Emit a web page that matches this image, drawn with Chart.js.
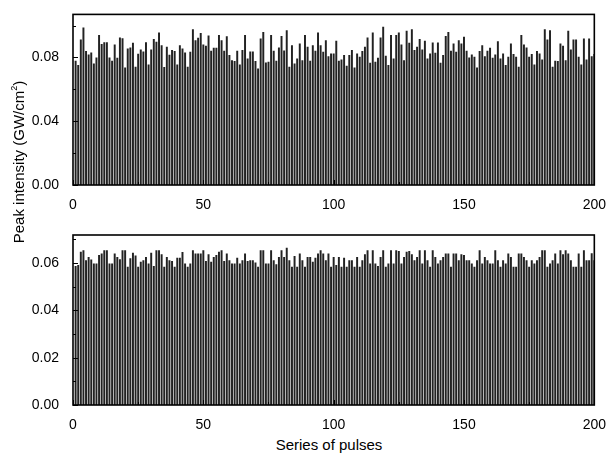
<!DOCTYPE html>
<html>
<head>
<meta charset="utf-8">
<script src="https://cdn.jsdelivr.net/npm/chart.js@4/dist/chart.umd.min.js"></script>
<style>
    html, body {margin: 0; padding: 0; background: #fff;}
    #wrap {position: relative; width: 610px; height: 454px; font-family: "Liberation Sans", Arial, sans-serif; color: #000;}
    canvas {position: absolute; left: 0;}
    #ytitle {position: absolute; left: -91px; top: 154px; width: 220px; text-align: center; font-size: 15px; line-height: 16px; transform: rotate(-90deg);}
    #ytitle sup {font-size: 9px; vertical-align: 7px; line-height: 0;}
    #xtitle {position: absolute; left: 67px; top: 437px; width: 524px; text-align: center; font-size: 15px; line-height: 16px;}
</style>
</head>
<body>
<div id="wrap">
    <canvas id="topChart" width="610" height="215" style="top:0"></canvas>
    <canvas id="bottomChart" width="610" height="215" style="top:220px"></canvas>
    <div id="ytitle">Peak intensity (GW/cm<sup>2</sup>)</div>
    <div id="xtitle">Series of pulses</div>
</div>
<script>
(function () {
    // peak intensity of each pulse, pulses 1..200
    const topValues = [
        .0777, .0750, .0911, .0985, .0838, .0817, .0829, .0760, .0798, .0938,
        .0883, .0894, .0894, .0798, .0777, .0879, .0796, .0923, .0919, .0735,
        .0854, .0860, .0890, .0740, .0821, .0848, .0835, .0894, .0754, .0848, .0913,
        .0896, .0954, .0875, .0738, .0865, .0815, .0844, .0838, .0754, .0875, .0854,
        .0829, .0740, .0833, .0975, .0906, .0921, .0952, .0879, .0871, .0935,
        .0840, .0858, .0858, .0938, .0906, .0840, .0931, .0813, .0781, .0775,
        .0840, .0754, .0844, .0938, .0792, .0835, .0835, .0775, .0729, .0917,
        .0958, .0767, .0771, .0938, .0840, .0777, .0861, .0933, .0842, .0969,
        .0740, .0875, .0760, .0792, .0885, .0781, .0938, .0865, .0777, .0875,
        .0840, .0954, .0875, .0833, .0906, .0806, .0823, .0823,
        .0902, .0777, .0785, .0813, .0746, .0813, .0844, .0735, .0823, .0802,
        .0838, .0865, .0923, .0765, .0954, .0771, .0796, .0923, .0990, .0808,
        .0750, .0938, .0792, .0938, .0954, .0879, .0781, .0965, .0890, .0975,
        .0844, .0865, .0913, .0848, .0902, .0792, .0823, .0892, .0827, .0892,
        .0765, .0813, .0933, .0958, .0840, .0885, .0833, .0906,
        .0885, .0927, .0840, .0798, .0817, .0802, .0735, .0838, .0875, .0806,
        .0840, .0858, .0796, .0817, .0900, .0792, .0823, .0750, .0802, .0885,
        .0819, .0802, .0740, .0938, .0879, .0861, .0802, .0819, .0754, .0838,
        .0823, .0785, .0975, .0911, .0969, .0740, .0777, .0775, .0885, .0871,
        .0781, .0965, .0848, .0911, .0911, .0802, .0754, .0917, .0785, .0917,
        .0806, .0819
    ];
    const bottomValues = [
        .0586, .0590, .0646, .0652, .0610, .0624, .0613, .0596, .0596, .0632,
        .0638, .0652, .0652, .0596, .0596, .0638, .0624, .0614, .0652, .0652,
        .0582, .0618, .0642, .0630, .0582, .0604, .0610, .0624, .0596, .0642, .0586,
        .0652, .0652, .0635, .0582, .0624, .0610, .0607, .0582, .0621, .0621, .0645,
        .0596, .0582, .0596, .0652, .0638, .0638, .0638, .0652, .0607, .0635,
        .0604, .0624, .0632, .0646, .0652, .0607, .0638, .0610, .0596, .0596,
        .0621, .0596, .0610, .0638, .0607, .0610, .0610, .0600, .0582, .0652,
        .0652, .0596, .0596, .0652, .0610, .0593, .0624, .0652, .0624, .0663,
        .0610, .0582, .0628, .0582, .0638, .0610, .0582, .0624, .0624, .0604,
        .0621, .0638, .0652, .0638, .0610, .0638, .0582, .0624,
        .0590, .0624, .0582, .0621, .0582, .0610, .0610, .0582, .0624, .0582,
        .0610, .0635, .0652, .0596, .0652, .0596, .0586, .0624, .0652, .0582,
        .0596, .0652, .0596, .0652, .0649, .0596, .0624, .0646, .0649, .0635,
        .0610, .0624, .0652, .0596, .0652, .0610, .0582, .0652, .0624, .0596,
        .0610, .0624, .0638, .0638, .0582, .0638, .0638, .0610,
        .0635, .0632, .0610, .0610, .0596, .0582, .0610, .0652, .0596, .0624,
        .0610, .0596, .0596, .0652, .0610, .0582, .0610, .0596, .0638, .0624,
        .0582, .0582, .0638, .0638, .0624, .0610, .0582, .0610, .0596, .0610,
        .0624, .0652, .0652, .0582, .0596, .0610, .0638, .0596, .0652, .0635,
        .0652, .0638, .0610, .0582, .0582, .0638, .0582, .0652, .0610, .0610,
        .0640, .0610
    ];
    const xTicks = [0, 50, 100, 150, 200];
    const xMinor = [25, 75, 125, 175];
    const topTicks = [0, 0.04, 0.08];
    const topMinor = [0.02, 0.06, 0.10];
    const bottomTicks = [0, 0.02, 0.04, 0.06];
    const bottomMinor = [0.01, 0.03, 0.05, 0.07];

    const font = {family: '"Liberation Sans", Arial, sans-serif', size: 14};

    // box round the plot plus inward tick marks on left and bottom
    const frame = {
        id: 'frame',
        afterDraw(chart, args, opts) {
            const {ctx, chartArea: a, scales: {x, y}} = chart;
            ctx.save();
            ctx.strokeStyle = '#000';
            ctx.lineWidth = 1;
            ctx.beginPath();
            const markX = (list, len) => {
                list.forEach(v => {
                    const px = Math.round(x.getPixelForValue(v)) + 0.5;
                    ctx.moveTo(px, a.bottom);
                    ctx.lineTo(px, a.bottom - len);
                });
            };
            const markY = (list, len) => {
                list.forEach(v => {
                    const py = Math.round(y.getPixelForValue(v)) + 0.5;
                    ctx.moveTo(a.left, py);
                    ctx.lineTo(a.left + len, py);
                });
            };
            markX(xTicks, 5);
            markX(xMinor, 3);
            markY(opts.major, 5);
            markY(opts.minor, 3);
            ctx.stroke();
            ctx.lineWidth = 1.6;
            ctx.strokeRect(a.left, a.top, a.right - a.left, a.bottom - a.top);
            ctx.restore();
        }
    };

    function draw(canvasId, values, yMax, major, minor, padTop) {
        new Chart(document.getElementById(canvasId), {
            type: 'bar',
            data: {
                datasets: [{
                    data: values.map((v, i) => ({x: i + 1, y: v})),
                    backgroundColor: '#222',
                    barThickness: 1.3
                }]
            },
            options: {
                responsive: false,
                animation: false,
                layout: {padding: {top: padTop, right: 13, bottom: 0, left: 0}},
                plugins: {
                    legend: {display: false},
                    tooltip: {enabled: false},
                    frame: {major, minor}
                },
                scales: {
                    x: {
                        type: 'linear', min: 0, max: 200, offset: false,
                        grid: {display: false}, border: {display: false},
                        afterBuildTicks: axis => { axis.ticks = xTicks.map(value => ({value})); },
                        afterFit: axis => { axis.height = 30; },
                        ticks: {color: '#000', font, padding: 4, maxRotation: 0}
                    },
                    y: {
                        min: 0, max: yMax,
                        grid: {display: false}, border: {display: false},
                        afterBuildTicks: axis => { axis.ticks = major.map(value => ({value})); },
                        afterFit: axis => { axis.width = 73; },
                        ticks: {color: '#000', font, padding: 6, callback: v => v.toFixed(2)}
                    }
                }
            },
            plugins: [frame]
        });
    }

    draw('topChart', topValues, 0.107, topTicks, topMinor, 14);
    draw('bottomChart', bottomValues, 0.0718, bottomTicks, bottomMinor, 15);
})();
</script>
</body>
</html>
